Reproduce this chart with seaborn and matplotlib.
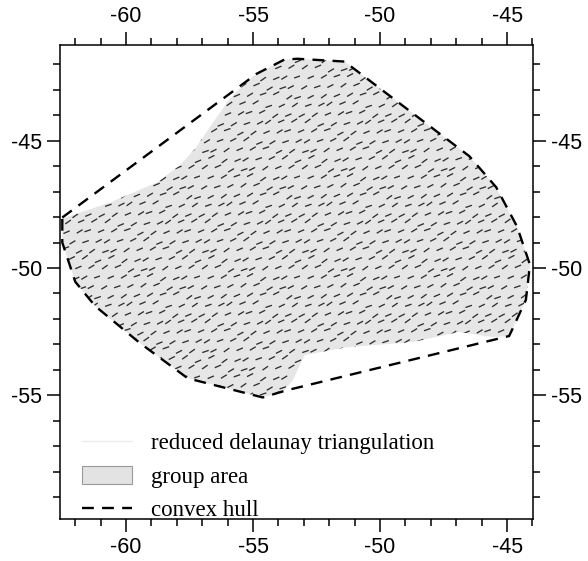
import numpy as np
import pandas as pd
import matplotlib
matplotlib.use("Agg")
import matplotlib.pyplot as plt
from matplotlib import hatch as mhatch
from matplotlib.path import Path
from matplotlib.lines import Line2D
from matplotlib.patches import Patch, Polygon
from matplotlib.ticker import FixedLocator, MultipleLocator
import seaborn as sns

# ---------------- data (longitude / latitude) ----------------
hull_lon = [-62.51, -54.86, -53.76, -53.25, -51.40, -46.49, -45.43, -44.61, -44.10,
            -44.26, -44.81, -44.92, -53.68, -54.62, -57.57, -59.45, -61.22, -62.00, -62.51]
hull_lat = [-48.02, -42.38, -41.82, -41.79, -41.90, -45.61, -46.83, -48.37, -49.87,
            -51.25, -52.44, -52.67, -54.80, -55.08, -54.33, -52.95, -51.49, -50.54, -49.00]

area_lon = [-62.51, -60.63, -58.78, -57.88, -57.29, -56.62, -55.92, -55.13, -54.86,
            -53.76, -53.25, -51.40, -46.49, -45.43, -44.61, -44.10, -44.26, -44.81, -44.92,
            -45.59, -46.89, -48.73, -51.32, -52.97, -53.44, -53.84,
            -54.62, -57.57, -59.45, -61.22, -62.00, -62.51]
area_lat = [-48.06, -47.43, -46.64, -45.97, -45.34, -44.35, -43.36, -42.57, -42.38,
            -41.82, -41.79, -41.90, -45.61, -46.83, -48.37, -49.87, -51.25, -52.44, -52.67,
            -52.71, -52.51, -52.91, -53.11, -53.42, -54.41, -54.88,
            -55.08, -54.33, -52.95, -51.49, -50.54, -49.00]

legend_labels = ["reduced delaunay triangulation", "group area", "convex hull"]
x_major = [-60, -55, -50, -45]
y_major = [-45, -50, -55]


# ---------------- texture of short dashes inside the group area (a fill style) ----------------
class _DashTexture(mhatch.HatchPatternBase):
    def __init__(self, hatch, density):
        segs = []
        if "/" in hatch:
            nr, nc = 11, 8
            half = 0.0275
            for r in range(nr):
                shift = ((r * 5) % nr) / nr
                for c in range(nc):
                    jx = (((r * 37 + c * 53) % 17) - 8) / 8 * 0.024
                    jy = (((r * 29 + c * 41) % 13) - 6) / 6 * 0.022
                    ang = np.deg2rad(27 + (((r * 3 + c * 7) % 5) - 2) * 4)
                    ca, sa = np.cos(ang), np.sin(ang)
                    cx = ((c + shift) / nc + jx) % 1.0
                    cy = (r + 0.5) / nr + jy
                    for off in (-1.0, 0.0, 1.0):
                        x0, x1 = cx - half * ca + off, cx + half * ca + off
                        if x1 > 0 and x0 < 1:
                            segs.append(((x0, cy - half * sa), (x1, cy + half * sa)))
        self.segs = segs
        self.num_vertices = 2 * len(segs)

    def set_vertices_and_codes(self, vertices, codes):
        for i, (p0, p1) in enumerate(self.segs):
            vertices[2 * i] = p0
            vertices[2 * i + 1] = p1
            codes[2 * i] = Path.MOVETO
            codes[2 * i + 1] = Path.LINETO


mhatch._hatch_types = [_DashTexture]

# ---------------- style ----------------
sns.set_style("ticks")
plt.rcParams["font.family"] = ["Liberation Sans", "DejaVu Sans"]
plt.rcParams["axes.unicode_minus"] = False
plt.rcParams["patch.force_edgecolor"] = False
plt.rcParams["hatch.color"] = "#303030"
plt.rcParams["hatch.linewidth"] = 0.95
plt.rcParams["text.color"] = "black"

fig = plt.figure(figsize=(5.88, 5.61), dpi=100)
ax = fig.add_axes([60 / 588, 42 / 561, 473 / 588, 474 / 561])

area = Polygon(np.column_stack([area_lon, area_lat]), closed=True,
               facecolor="#e6e6e6", linewidth=0, hatch="/", zorder=1)
ax.add_patch(area)

hull_df = pd.DataFrame({"lon": hull_lon + hull_lon[:1], "lat": hull_lat + hull_lat[:1]})
sns.lineplot(data=hull_df, x="lon", y="lat", sort=False, estimator=None, ax=ax,
             color="black", lw=1.7, linestyle=(0, (5, 3.5)), zorder=3)

ax.set_xlim(-62.6, -43.98)
ax.set_ylim(-59.85, -41.25)
ax.set_xlabel("")
ax.set_ylabel("")
ax.xaxis.set_major_locator(FixedLocator(x_major))
ax.yaxis.set_major_locator(FixedLocator(y_major))
ax.xaxis.set_minor_locator(MultipleLocator(1))
ax.yaxis.set_minor_locator(MultipleLocator(1))
ax.tick_params(which="both", direction="out", top=True, right=True, bottom=True, left=True,
               labeltop=True, labelright=True, labelbottom=True, labelleft=True,
               width=1.1, color="black", labelcolor="black", labelsize=15.5)
ax.tick_params(which="major", length=9.5, pad=3.5)
ax.tick_params(which="minor", length=5)
for s in ax.spines.values():
    s.set_visible(True)
    s.set_color("black")
    s.set_linewidth(1.1)

handles = [Line2D([], [], color="#ececec", lw=1.0),
           Patch(facecolor="#e3e3e3", edgecolor="#9a9a9a", lw=0.8),
           Line2D([], [], color="black", lw=1.7, linestyle=(0, (5, 3.5)))]
ax.legend(handles, legend_labels, loc="lower left", bbox_to_anchor=(0.046, -0.005),
          frameon=False, prop={"family": "Liberation Serif", "size": 16.5},
          handlelength=2.2, handletextpad=0.8, handleheight=0.8, labelspacing=0.52,
          borderpad=0.0, borderaxespad=0.0)

fig.savefig("out.png", dpi=100)
